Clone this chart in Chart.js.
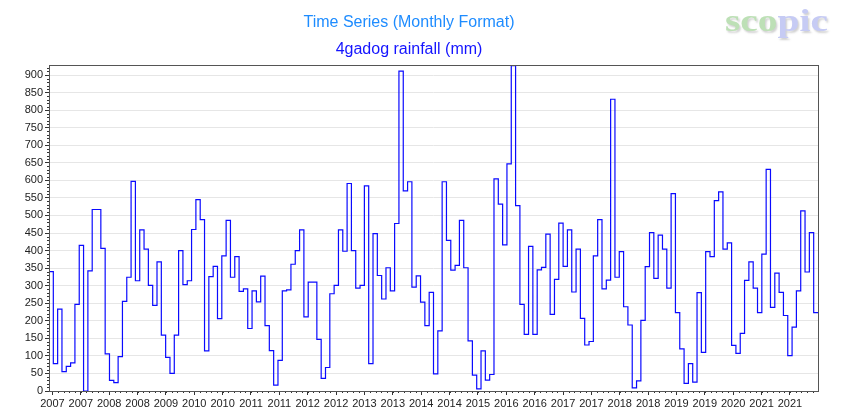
<!DOCTYPE html>
<html>
<head>
<meta charset="utf-8">
<script src="https://cdn.jsdelivr.net/npm/chart.js@4"></script>
<style>
  html, body { margin: 0; padding: 0; background: #fff; }
  #wrap { width: 846px; height: 409px; position: relative; }
</style>
</head>
<body>
<div id="wrap"><canvas id="c" width="846" height="409"></canvas></div>
<script>
// Monthly rainfall (mm), one value per month, 178 months
const rainfall = [
  340, 78, 233, 55, 70, 80, 247, 415, 0, 342, 517, 517,
  406, 106, 30, 24, 98, 255, 324, 597, 314, 459, 404, 301,
  244, 368, 159, 96, 50, 159, 400, 303, 314, 460, 545, 488,
  114, 326, 355, 206, 385, 486, 324, 383, 284, 291, 178, 285,
  254, 327, 186, 115, 17, 87, 285, 288, 361, 400, 459, 211,
  310, 310, 147, 36, 67, 277, 301, 459, 398, 591, 400, 293,
  301, 584, 78, 448, 329, 262, 351, 285, 477, 911, 570, 596,
  296, 328, 253, 186, 281, 49, 171, 596, 429, 344, 358, 486,
  351, 143, 45, 6, 114, 31, 47, 604, 532, 416, 647, 927,
  528, 247, 161, 412, 161, 345, 352, 447, 218, 318, 478, 355,
  459, 282, 404, 207, 131, 141, 385, 488, 291, 316, 831, 324,
  397, 240, 188, 9, 29, 201, 354, 451, 321, 444, 404, 293,
  562, 223, 120, 22, 78, 25, 280, 110, 397, 383, 542, 567,
  404, 422, 130, 107, 164, 315, 368, 293, 223, 390, 631, 238,
  336, 281, 215, 101, 182, 285, 513, 339, 451, 223
];

// x-axis tick labels (one every ~200 days)
const xTickLabels = [
  "2007","2007","2008","2008","2009","2010","2010","2011","2011",
  "2012","2012","2013","2013","2014","2014","2015","2016","2016",
  "2017","2017","2018","2018","2019","2019","2020","2021","2021"
];
// y-axis tick values
const yTickValues = [0,50,100,150,200,250,300,350,400,450,500,550,600,650,700,750,800,850,900];

const titleText = "Time Series (Monthly Format)";
const subtitleText = "4gadog rainfall (mm)";

// tick placement in month units
const xFirstTick = 0.79;
const xTickStep = 6.566;
const nMonths = rainfall.length;

const points = rainfall.map((v, i) => ({x: i, y: v}));
points.push({x: nMonths, y: rainfall[nMonths - 1]});

const FONT = "'Liberation Sans', Arial, sans-serif";

const decorPlugin = {
  id: 'decor',
  afterDraw(chart) {
    const ctx = chart.ctx;
    const a = chart.chartArea;
    const xs = chart.scales.x, ys = chart.scales.y;
    ctx.save();
    // minor ticks
    ctx.strokeStyle = '#333';
    ctx.lineWidth = 1;
    ctx.beginPath();
    const minorStep = xTickStep / 5;
    for (let v = xFirstTick; v <= xs.max; v += minorStep) {
      const px = Math.round(xs.getPixelForValue(v)) + 0.5;
      ctx.moveTo(px, a.bottom);
      ctx.lineTo(px, a.bottom + 2);
    }
    for (let v = 10; v <= ys.max; v += 10) {
      if (v % 50 === 0) continue;
      const py = Math.round(ys.getPixelForValue(v)) + 0.5;
      ctx.moveTo(a.left, py);
      ctx.lineTo(a.left - 2, py);
    }
    ctx.stroke();
    // plot frame
    ctx.strokeStyle = '#555';
    ctx.lineWidth = 1;
    ctx.strokeRect(Math.round(a.left) + 0.5, Math.round(a.top) + 0.5,
                   Math.round(a.right - a.left), Math.round(a.bottom - a.top));
    // logo
    ctx.font = "bold 31px 'Liberation Serif', 'DejaVu Serif', serif";
    ctx.textBaseline = 'alphabetic';
    ctx.textAlign = 'left';
    const w1 = ctx.measureText('sco').width;
    const wAll = ctx.measureText('scopic').width;
    const sx = 103 / wAll;
    ctx.translate(725, 31);
    ctx.scale(sx, 1);
    ctx.shadowColor = 'rgba(140,140,140,0.4)';
    ctx.shadowOffsetX = 1.5;
    ctx.shadowOffsetY = 1.5;
    ctx.shadowBlur = 2;
    ctx.fillStyle = '#bde0b6';
    ctx.fillText('sco', 0, 0);
    ctx.fillStyle = '#c6cbf4';
    ctx.fillText('pic', w1, 0);
    ctx.restore();
  }
};

new Chart(document.getElementById('c'), {
  type: 'line',
  data: {
    datasets: [{
      data: points,
      stepped: 'before',
      borderColor: '#0a0aff',
      borderWidth: 1.2,
      pointRadius: 0,
      fill: false,
      tension: 0
    }]
  },
  options: {
    responsive: false,
    animation: false,
    devicePixelRatio: 1,
    layout: { padding: { left: 0, right: 28, top: 0, bottom: 0 } },
    plugins: {
      legend: { display: false },
      tooltip: { enabled: false },
      title: {
        display: true,
        text: titleText,
        color: '#1e8cff',
        font: { family: FONT, size: 16, weight: 'normal' },
        padding: { top: 13.4, bottom: 0 }
      },
      subtitle: {
        display: true,
        text: subtitleText,
        color: '#1414ff',
        font: { family: FONT, size: 16, weight: 'normal' },
        padding: { top: 7.8, bottom: 5.4 }
      }
    },
    scales: {
      x: {
        type: 'linear',
        min: 0,
        max: nMonths,
        afterBuildTicks: (scale) => {
          scale.ticks = xTickLabels.map((_, i) => ({ value: xFirstTick + i * xTickStep }));
        },
        afterFit: (scale) => { scale.height = 18; },
        ticks: {
          autoSkip: false,
          maxRotation: 0,
          minRotation: 0,
          padding: 2,
          color: '#222',
          font: { family: FONT, size: 11 },
          callback: (val, idx) => xTickLabels[idx]
        },
        grid: {
          drawOnChartArea: false,
          drawTicks: true,
          tickLength: 4,
          tickColor: '#333'
        },
        border: { display: false }
      },
      y: {
        type: 'linear',
        min: 0,
        max: 928.5,
        afterBuildTicks: (scale) => {
          scale.ticks = yTickValues.map(v => ({ value: v }));
        },
        afterFit: (scale) => { scale.width = 49; },
        ticks: {
          autoSkip: false,
          padding: 2,
          color: '#222',
          font: { family: FONT, size: 11 },
          callback: (val) => String(val)
        },
        grid: {
          drawOnChartArea: true,
          color: '#e6e6e6',
          lineWidth: 1,
          drawTicks: true,
          tickLength: 4,
          tickColor: '#333'
        },
        border: { display: false }
      }
    }
  },
  plugins: [decorPlugin]
});
</script>
</body>
</html>
